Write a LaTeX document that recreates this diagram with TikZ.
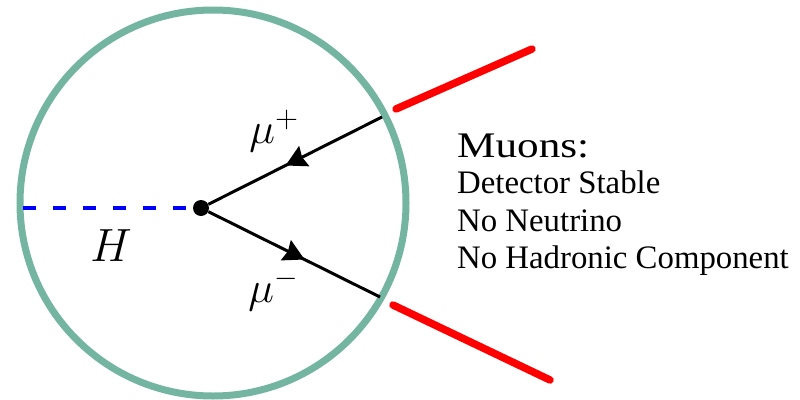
\documentclass[tikz,border=0pt]{standalone}
\usepackage{fontspec}
\setmainfont{Liberation Serif}
\newfontfamily\widefont[FakeStretch=1.2]{Liberation Serif}
\usetikzlibrary{decorations.markings}
\definecolor{detgreen}{RGB}{115,181,160}
\tikzset{
  fermion/.style={line width=3pt, postaction={decorate},
    decoration={markings, mark=at position #1 with {\fill[black] (2pt,0pt) -- (-19pt,-11.5pt) -- (-16.5pt,0pt) -- (-19pt,11.5pt) -- cycle;}}},
  track/.style={red, line width=7.5pt, line cap=round},
  higgs/.style={blue, line width=3.2pt, dash pattern=on 13pt off 17pt},
  lbl/.style={inner sep=0pt, anchor=base west, font=\fontsize{20}{20}\selectfont, scale=2.1},
  txt/.style={inner sep=0pt, anchor=base west, font=\fontsize{32.8}{34}\selectfont},
}
\begin{document}
\begin{tikzpicture}[x=1pt,y=-1pt]
\useasboundingbox (0,0) rectangle (800,399);
\node[draw=detgreen, line width=7pt, circle, minimum size=386pt, inner sep=0pt] (det) at (213,203) {};
\node[circle, fill=black, minimum size=16pt, inner sep=0pt] (v) at (201,208) {};
\coordinate (hstart) at (23,208);
\coordinate (mup) at (382,117);
\coordinate (mum) at (380,297);
\coordinate (t1a) at (396,109);
\coordinate (t1b) at (532,49);
\coordinate (t2a) at (393,305);
\coordinate (t2b) at (550,380);
\draw[higgs] (hstart) -- (v);
\draw[fermion=0.545] (mup) -- (v);
\draw[fermion=0.55] (v) -- (mum);
\draw[track] (t1a) -- (t1b);
\draw[track] (t2a) -- (t2b);
\node[lbl] (lmup) at (249,143) {$\mu^+$};
\node[lbl] (lmum) at (248,302) {$\mu^-$};
\node[lbl, scale=1.07] (lh) at (90,261) {$H$};
\node[inner sep=0pt, anchor=base west, font=\widefont\fontsize{36}{36}\selectfont] (t0) at (457,157) {Muons:};
\node[txt] (t1) at (457,193) {Detector Stable};
\node[txt] (t2) at (457,231) {No Neutrino};
\node[txt] (t3) at (457,268) {No Hadronic Component};
\end{tikzpicture}
\end{document}
